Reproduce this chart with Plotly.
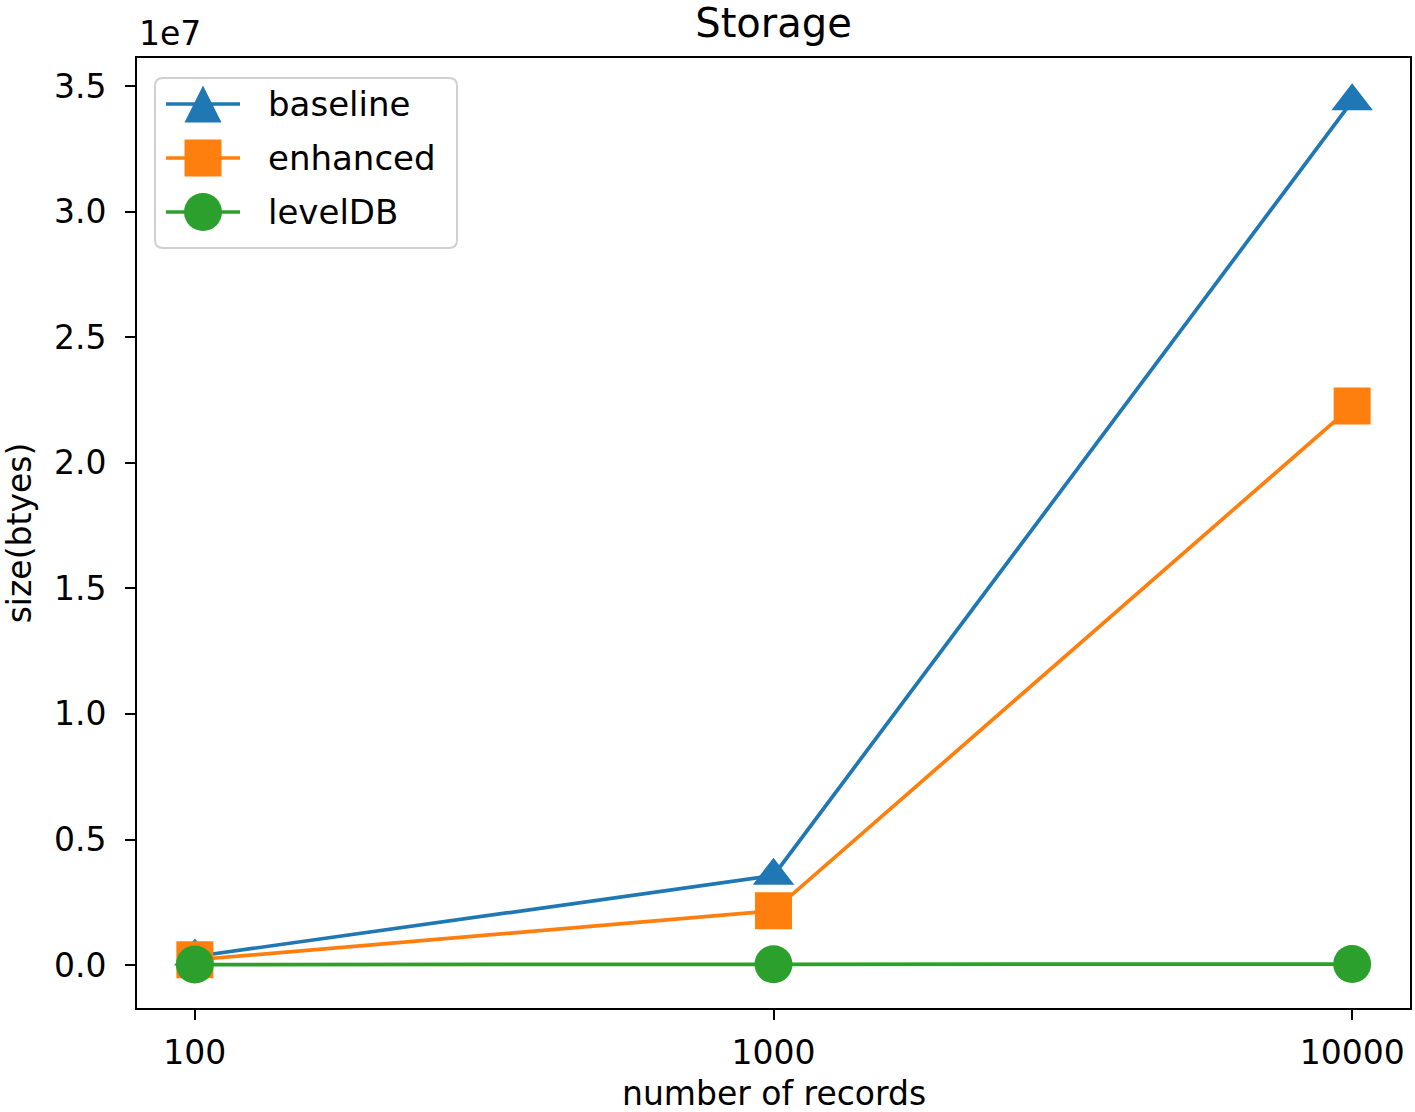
import plotly.graph_objects as go

categories = ["100", "1000", "10000"]
baseline = [0.034e7, 0.356e7, 3.44e7]
enhanced = [0.021e7, 0.216e7, 2.226e7]
leveldb = [0.002e7, 0.003e7, 0.004e7]
series_names = ["baseline", "enhanced", "levelDB"]
ytick_vals = [0, 0.5e7, 1e7, 1.5e7, 2e7, 2.5e7, 3e7, 3.5e7]
ytick_text = ["0.0", "0.5", "1.0", "1.5", "2.0", "2.5", "3.0", "3.5"]

FONT = "DejaVu Sans"
FS = 33
COLORS = ["#1f77b4", "#ff7f0e", "#2ca02c"]
SYMBOLS = ["triangle-up", "square", "circle"]
SIZES = [36, 37, 38]

W, H = 1415, 1112
L, R, T, B = 137, 5, 58, 104
PW, PH = W - L - R, H - T - B


def px(x):
    return (x - L) / PW


def py(y):
    return (H - B - y) / PH


fig = go.Figure()
for name, vals, color, sym, size in zip(series_names, [baseline, enhanced, leveldb], COLORS, SYMBOLS, SIZES):
    fig.add_trace(go.Scatter(
        x=[0, 1, 2], y=vals, name=name, mode="lines+markers",
        line=dict(color=color, width=3.7),
        marker=dict(symbol=sym, size=size, color=color, line=dict(width=0)),
        showlegend=False,
    ))

# custom legend (matplotlib style)
shapes = []
bx0, bx1, by0, by1, rr = 155, 457, 78, 248, 8
path = (f"M{px(bx0+rr)},{py(by0)} L{px(bx1-rr)},{py(by0)} Q{px(bx1)},{py(by0)} {px(bx1)},{py(by0+rr)} "
        f"L{px(bx1)},{py(by1-rr)} Q{px(bx1)},{py(by1)} {px(bx1-rr)},{py(by1)} "
        f"L{px(bx0+rr)},{py(by1)} Q{px(bx0)},{py(by1)} {px(bx0)},{py(by1-rr)} "
        f"L{px(bx0)},{py(by0+rr)} Q{px(bx0)},{py(by0)} {px(bx0+rr)},{py(by0)} Z")
shapes.append(dict(type="path", xref="paper", yref="paper", path=path,
                   fillcolor="rgba(255,255,255,0.8)", line=dict(color="#d0d0d0", width=2)))
rows = [104, 158, 212]
mx, ms = 203, 37
for i, (name, color) in enumerate(zip(series_names, COLORS)):
    yy = rows[i]
    shapes.append(dict(type="line", xref="paper", yref="paper", x0=px(166), x1=px(240),
                       y0=py(yy), y1=py(yy), line=dict(color=color, width=3.7)))
    h = ms / 2
    if i == 0:
        p = f"M{px(mx)},{py(yy-h)} L{px(mx-h)},{py(yy+h)} L{px(mx+h)},{py(yy+h)} Z"
        shapes.append(dict(type="path", xref="paper", yref="paper", path=p,
                           fillcolor=color, line=dict(width=0)))
    elif i == 1:
        shapes.append(dict(type="rect", xref="paper", yref="paper", x0=px(mx-h), x1=px(mx+h),
                           y0=py(yy+h), y1=py(yy-h), fillcolor=color, line=dict(width=0)))
    else:
        shapes.append(dict(type="circle", xref="paper", yref="paper", x0=px(mx-h-0.5), x1=px(mx+h+0.5),
                           y0=py(yy+h+0.5), y1=py(yy-h-0.5), fillcolor=color, line=dict(width=0)))
    fig.add_annotation(text=name, xref="paper", yref="paper", x=px(266), y=py(yy),
                       xanchor="left", yanchor="middle", showarrow=False,
                       font=dict(family=FONT, size=34, color="black"))

fig.update_layout(
    width=W, height=H,
    margin=dict(l=L, r=R, t=T, b=B, autoexpand=False),
    paper_bgcolor="white", plot_bgcolor="white",
    font=dict(family=FONT, size=FS, color="black"),
    title=dict(text="Storage", x=0.5, xref="paper", xanchor="center", y=1 - 23 / H, yanchor="middle",
               font=dict(family=FONT, size=40, color="black")),
    showlegend=False,
    shapes=shapes,
)
fig.update_xaxes(
    range=[-0.1, 2.1], tickmode="array", tickvals=[0, 1, 2], ticktext=categories,
    showgrid=False, zeroline=False, showline=True, linecolor="black", linewidth=2,
    mirror=True, ticks="outside", ticklen=10, tickwidth=2, tickcolor="black",
    ticklabelstandoff=4, automargin=False,
    tickfont=dict(family=FONT, size=FS, color="black"),
)
fig.update_yaxes(
    range=[-0.171e7, 3.612e7], tickmode="array", tickvals=ytick_vals, ticktext=ytick_text,
    showgrid=False, zeroline=False, showline=True, linecolor="black", linewidth=2,
    mirror=True, ticks="outside", ticklen=10, tickwidth=2, tickcolor="black",
    ticklabelstandoff=12, automargin=False,
    tickfont=dict(family=FONT, size=FS, color="black"),
    title=dict(text="size(btyes)", font=dict(family=FONT, size=FS, color="black"), standoff=12),
)
fig.add_annotation(text="number of records", xref="paper", yref="paper", x=0.5, y=py(1093),
                   xanchor="center", yanchor="middle", showarrow=False,
                   font=dict(family=FONT, size=FS, color="black"))
fig.add_annotation(text="1e7", xref="paper", yref="paper", x=0, y=1.0, xanchor="left",
                   yanchor="bottom", yshift=3, showarrow=False,
                   font=dict(family=FONT, size=FS, color="black"))
fig.write_html("out.html", config={"displayModeBar": False},
               post_script="document.body.style.margin='0';")
